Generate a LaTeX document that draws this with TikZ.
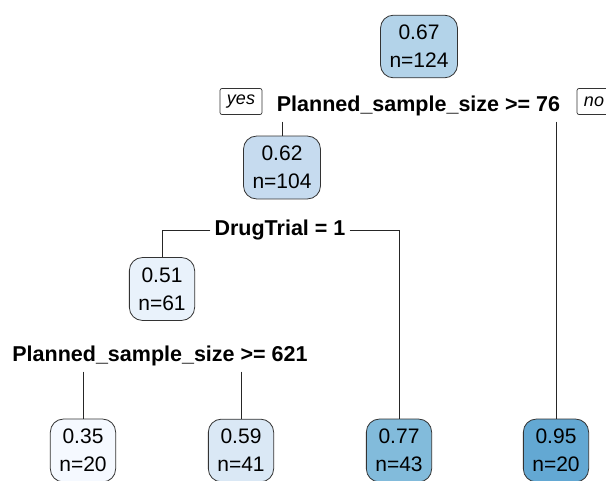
\documentclass[tikz,border=0pt]{standalone}
\usepackage{fontspec}
\setmainfont{Liberation Sans}

% fill colours of the boxes, light to dark
\definecolor{blueA}{RGB}{245,249,255}
\definecolor{blueB}{RGB}{233,242,251}
\definecolor{blueC}{RGB}{218,232,245}
\definecolor{blueD}{RGB}{198,219,239}
\definecolor{blueE}{RGB}{179,211,233}
\definecolor{blueF}{RGB}{130,187,219}
\definecolor{blueG}{RGB}{99,168,211}

\tikzset{
    box/.style={draw=black!80, line width=0.8pt, rounded corners=13pt, align=center,
        inner xsep=9pt, inner ysep=10pt, font=\fontsize{21}{28}\selectfont},
    split/.style={anchor=base, inner xsep=4pt, inner ysep=5pt,
        font=\fontsize{21.5}{26}\selectfont\bfseries},
    yesno/.style={draw=black!80, line width=0.7pt, rounded corners=2pt, inner xsep=7pt,
        minimum height=26pt, font=\fontsize{18}{20}\selectfont\itshape},
    edge/.style={draw=black!85, line width=0.9pt}
}

\begin{document}
\begin{tikzpicture}[x=1pt, y=-1pt]

        \clip (0,0) rectangle (606,481);

        % Inner nodes of the tree
        \node[box, fill=blueE] (N1) at (419,46.5) {0.67\\n=124};
        \node[box, fill=blueD] (N2) at (282,167.5) {0.62\\n=104};
        \node[box, fill=blueB] (N3) at (162,289) {0.51\\n=61};

        % Split labels under the inner nodes
        \node[split] (S1) at (418.5,112) {Planned\_sample\_size >= 76};
        \node[split] (S2) at (280,236) {DrugTrial = 1};
        \node[split] (S3) at (160,362) {Planned\_sample\_size >= 621};

        \node[yesno] (yes) at (241,101.5) {yes};
        \node[yesno] (no) at (594,101.5) {no};

        % Loop to draw the leaves along the bottom
        \foreach \name/\x/\col/\p/\n in {L1/83/blueA/0.35/20, L2/241/blueC/0.59/41,
                L3/399/blueF/0.77/43, L4/556/blueG/0.95/20} {
            \node[box, fill=\col] (\name) at (\x,450.5) {\p\\n=\n};
        }

        % Branches from each split to its children
        \draw[edge] (S1.south -| N2.north) -- (N2.north);
        \draw[edge] (S1.south -| L4.north) -- (L4.north);
        \draw[edge] (S2.west) -| (N3.north);
        \draw[edge] (S2.east) -| (L3.north);
        \draw[edge] (S3.south -| L1.north) -- (L1.north);
        \draw[edge] (S3.south -| L2.north) -- (L2.north);

    \end{tikzpicture}
\end{document}
